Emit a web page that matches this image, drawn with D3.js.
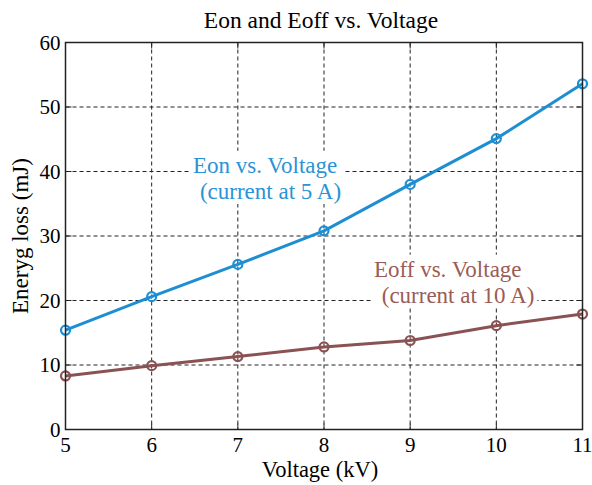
<!DOCTYPE html>
<html>
<head>
<meta charset="utf-8">
<script src="https://cdn.jsdelivr.net/npm/d3@7"></script>
<style>
  body { margin: 0; background: #fff; }
  text { font-family: "Liberation Serif", "Times New Roman", serif; }
</style>
</head>
<body>
<div id="chart"></div>
<script>
// Data
const voltages = [5, 6, 7, 8, 9, 10, 11];
const eonValues = [15.4, 20.6, 25.6, 30.8, 38.0, 45.1, 53.6];
const eoffValues = [8.3, 9.9, 11.3, 12.8, 13.8, 16.1, 17.9];
const yTicks = [0, 10, 20, 30, 40, 50, 60];

const width = 592, height = 485;
const margin = { top: 42.5, right: 9.5, bottom: 55.5, left: 65.5 };
const innerW = width - margin.left - margin.right;
const innerH = height - margin.top - margin.bottom;

const svg = d3.select("#chart").append("svg")
    .attr("width", width)
    .attr("height", height);

const g = svg.append("g")
    .attr("transform", `translate(${margin.left},${margin.top})`);

const x = d3.scaleLinear().domain([5, 11]).range([0, innerW]);
const y = d3.scaleLinear().domain([0, 60]).range([innerH, 0]);

// Dashed grid
g.selectAll(".vgrid").data(voltages.slice(1, -1)).join("line")
    .attr("x1", d => x(d)).attr("x2", d => x(d))
    .attr("y1", 0).attr("y2", innerH)
    .attr("stroke", "#222").attr("stroke-width", 1)
    .attr("stroke-dasharray", "4,3");

g.selectAll(".hgrid").data(yTicks.slice(1, -1)).join("line")
    .attr("y1", d => y(d)).attr("y2", d => y(d))
    .attr("x1", 0).attr("x2", innerW)
    .attr("stroke", "#222").attr("stroke-width", 1)
    .attr("stroke-dasharray", "4,3");

// Inward ticks
const tickLen = 6;
g.selectAll(".xt").data(voltages).join("line")
    .attr("x1", d => x(d)).attr("x2", d => x(d))
    .attr("y1", innerH).attr("y2", innerH - tickLen)
    .attr("stroke", "#222");
g.selectAll(".xt2").data(voltages).join("line")
    .attr("x1", d => x(d)).attr("x2", d => x(d))
    .attr("y1", 0).attr("y2", tickLen)
    .attr("stroke", "#222");
g.selectAll(".yt").data(yTicks).join("line")
    .attr("y1", d => y(d)).attr("y2", d => y(d))
    .attr("x1", 0).attr("x2", tickLen)
    .attr("stroke", "#222");
g.selectAll(".yt2").data(yTicks).join("line")
    .attr("y1", d => y(d)).attr("y2", d => y(d))
    .attr("x1", innerW).attr("x2", innerW - tickLen)
    .attr("stroke", "#222");

// Tick labels
g.selectAll(".xl").data(voltages).join("text")
    .attr("x", d => x(d)).attr("y", innerH + 22.5)
    .attr("text-anchor", "middle")
    .style("font-size", "21px")
    .text(d => d);
g.selectAll(".yl").data(yTicks).join("text")
    .attr("x", -5).attr("y", d => y(d) + 7)
    .attr("text-anchor", "end")
    .style("font-size", "21px")
    .text(d => d);

// Annotations with white background
function note(lines, color) {
    const t = g.append("g");
    const bg = t.append("rect").attr("fill", "#fff");
    lines.forEach(l => {
        t.append("text")
            .attr("x", x(l.x)).attr("y", y(l.y))
            .attr("fill", color)
            .style("font-size", "23px")
            .text(l.s);
    });
    const b = t.node().getBBox();
    bg.attr("x", b.x - 3).attr("y", b.y - 2)
        .attr("width", b.width + 6).attr("height", b.height + 2);
}
note([
    { s: "Eon vs. Voltage", x: 6.48, y: 39.8 },
    { s: "(current at 5 A)", x: 6.56, y: 35.75 }
], "#2a93d5");
note([
    { s: "Eoff vs. Voltage", x: 8.58, y: 23.7 },
    { s: "(current at 10 A)", x: 8.67, y: 19.6 }
], "#9a5c55");

// Series
const line = d3.line().x((d, i) => x(voltages[i])).y(d => y(d));
function series(vals, color) {
    g.append("path").datum(vals)
        .attr("fill", "none").attr("stroke", color)
        .attr("stroke-width", 3).attr("d", line);
    g.selectAll(null).data(vals).join("circle")
        .attr("cx", (d, i) => x(voltages[i])).attr("cy", d => y(d))
        .attr("r", 4.5).attr("fill", "none")
        .attr("stroke", color).attr("stroke-width", 2.2);
}
series(eonValues, "#1e8ed3");
series(eoffValues, "#8a5252");

// Axes box
g.append("rect")
    .attr("width", innerW).attr("height", innerH)
    .attr("fill", "none").attr("stroke", "#222").attr("stroke-width", 1.5);

// Titles
svg.append("text")
    .attr("x", 321).attr("y", 28)
    .attr("text-anchor", "middle")
    .style("font-size", "23.5px")
    .text("Eon and Eoff vs. Voltage");
svg.append("text")
    .attr("x", 320).attr("y", 476.5)
    .attr("text-anchor", "middle")
    .style("font-size", "22.5px")
    .text("Voltage (kV)");
svg.append("text")
    .attr("transform", `translate(27.5,${margin.top + innerH / 2}) rotate(-90)`)
    .attr("text-anchor", "middle")
    .style("font-size", "23px")
    .text("Eneryg loss (mJ)");
</script>
</body>
</html>
